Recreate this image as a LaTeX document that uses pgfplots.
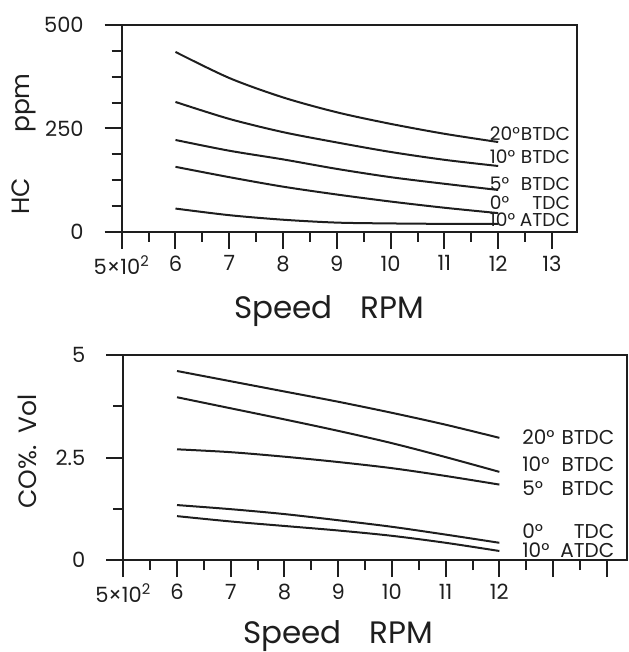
\documentclass[border=0pt]{standalone}
\usepackage{pgfplots}
\pgfplotsset{compat=1.18}
\usepackage{fontspec}
\setmainfont{Poppins}

\definecolor{ink}{HTML}{1E1E1E}

\pgfplotsset{
  scan/.style={
    scale only axis, clip=false,
    axis line style={ink, line width=1.1pt},
    tick style={ink, line width=1pt},
    tick align=outside, xtick pos=bottom, ytick pos=left,
    major tick length=8.5pt, minor tick length=5pt,
    tick label style={font=\fontsize{10.5}{12}\selectfont, text=ink},
    yticklabel shift=7pt,
    label style={font=\fontsize{12.5}{14}\selectfont, text=ink},
    xlabel style={font=\fontsize{15.5}{18}\selectfont, anchor=center},
    ylabel style={anchor=center},
    cycle list={{ink}},
    every axis plot post/.append style={line width=1pt, smooth, tension=0.5, mark=none},
  },
}
\tikzset{lbl/.style={anchor=west, inner sep=0pt, text=ink}}

\begin{document}
\begin{tikzpicture}
\path[use as bounding box] (0,0) rectangle (314pt,-326pt);

% HC emissions
\begin{axis}[scan,
  at={(60.85pt,-115.85pt)}, anchor=south west,
  width=227.5pt, height=103.3pt,
  xmin=5, xmax=13.46, ymin=0, ymax=500,
  xtick={5,6,...,13},
  xticklabels={5×10\textsuperscript{2},6,7,8,9,10,11,12,13},
  minor xtick={5.5,6.5,...,12.5},
  ytick={0,250,500}, yticklabels={0,250,500},
  minor ytick={62.5,125,187.5,312.5,375,437.5},
  xlabel={Speed\hspace{0.9em}RPM},
  ylabel={HC\hspace{1.8em}ppm},
  xlabel style={at={(axis description cs:0.456,-0.385)}},
  ylabel style={at={(axis description cs:-0.215,0.425)}},
]
\addplot coordinates {(6,435)(7,372)(8,325)(9,289)(10,261)(11,237)(12,217)};
\addplot coordinates {(6,314)(7,273)(8,241)(9,216)(10,193)(11,174)(12,159)};
\addplot coordinates {(6,222)(7,196)(8,175)(9,152)(10,132)(11,116)(12,101)};
\addplot coordinates {(6,157)(7,132)(8,109)(9,90)(10,73)(11,58)(12,45)};
\addplot coordinates {(6,56)(7,40)(8,29)(9,22)(10,20)(11,19)(12,19)};
\begin{scope}[font=\fontsize{9.3}{10}\selectfont]
\node[lbl] at (axis cs:11.84,238) {\makebox[40pt]{20°\hfill BTDC}};
\node[lbl] at (axis cs:11.84,182) {\makebox[40pt]{10°\hfill BTDC}};
\node[lbl] at (axis cs:11.84,116) {\makebox[40pt]{5°\hfill BTDC}};
\node[lbl] at (axis cs:11.84,70) {\makebox[40pt]{0°\hfill TDC}};
\node[lbl] at (axis cs:11.84,29) {\makebox[40pt]{10°\hfill ATDC}};
\end{scope}
\end{axis}

% CO emissions
\begin{axis}[scan,
  at={(61.65pt,-280pt)}, anchor=south west,
  width=251.7pt, height=102.5pt,
  xmin=5, xmax=14.37, ymin=0, ymax=5,
  xtick={5,6,...,14},
  xticklabels={5×10\textsuperscript{2},6,7,8,9,10,11,12,,},
  minor xtick={5.5,6.5,...,13.5},
  ytick={0,2.5,5}, yticklabels={0,2.5,5},
  minor ytick={1.25,3.75},
  xlabel={Speed\hspace{0.9em}RPM},
  ylabel={CO\%.\hspace{0.5em}Vol},
  xlabel style={at={(axis description cs:0.427,-0.371)}},
  ylabel style={at={(axis description cs:-0.19,0.53)}},
]
\addplot coordinates {(6,4.61)(7,4.36)(8,4.11)(9,3.86)(10,3.59)(11,3.30)(12,2.98)};
\addplot coordinates {(6,3.97)(7,3.70)(8,3.43)(9,3.15)(10,2.85)(11,2.51)(12,2.15)};
\addplot coordinates {(6,2.70)(7,2.63)(8,2.52)(9,2.39)(10,2.24)(11,2.05)(12,1.84)};
\addplot coordinates {(6,1.34)(7,1.24)(8,1.12)(9,0.97)(10,0.81)(11,0.62)(12,0.42)};
\addplot coordinates {(6,1.07)(7,0.94)(8,0.83)(9,0.72)(10,0.59)(11,0.42)(12,0.22)};
\begin{scope}[font=\fontsize{10}{11}\selectfont]
\node[lbl] at (axis cs:12.42,3.0) {\makebox[46pt]{20°\hfill BTDC}};
\node[lbl] at (axis cs:12.42,2.33) {\makebox[46pt]{10°\hfill BTDC}};
\node[lbl] at (axis cs:12.42,1.75) {\makebox[46pt]{5°\hfill BTDC}};
\node[lbl] at (axis cs:12.42,0.71) {\makebox[46pt]{0°\hfill TDC}};
\node[lbl] at (axis cs:12.42,0.25) {\makebox[46pt]{10°\hfill ATDC}};
\end{scope}
\end{axis}
\end{tikzpicture}
\end{document}
